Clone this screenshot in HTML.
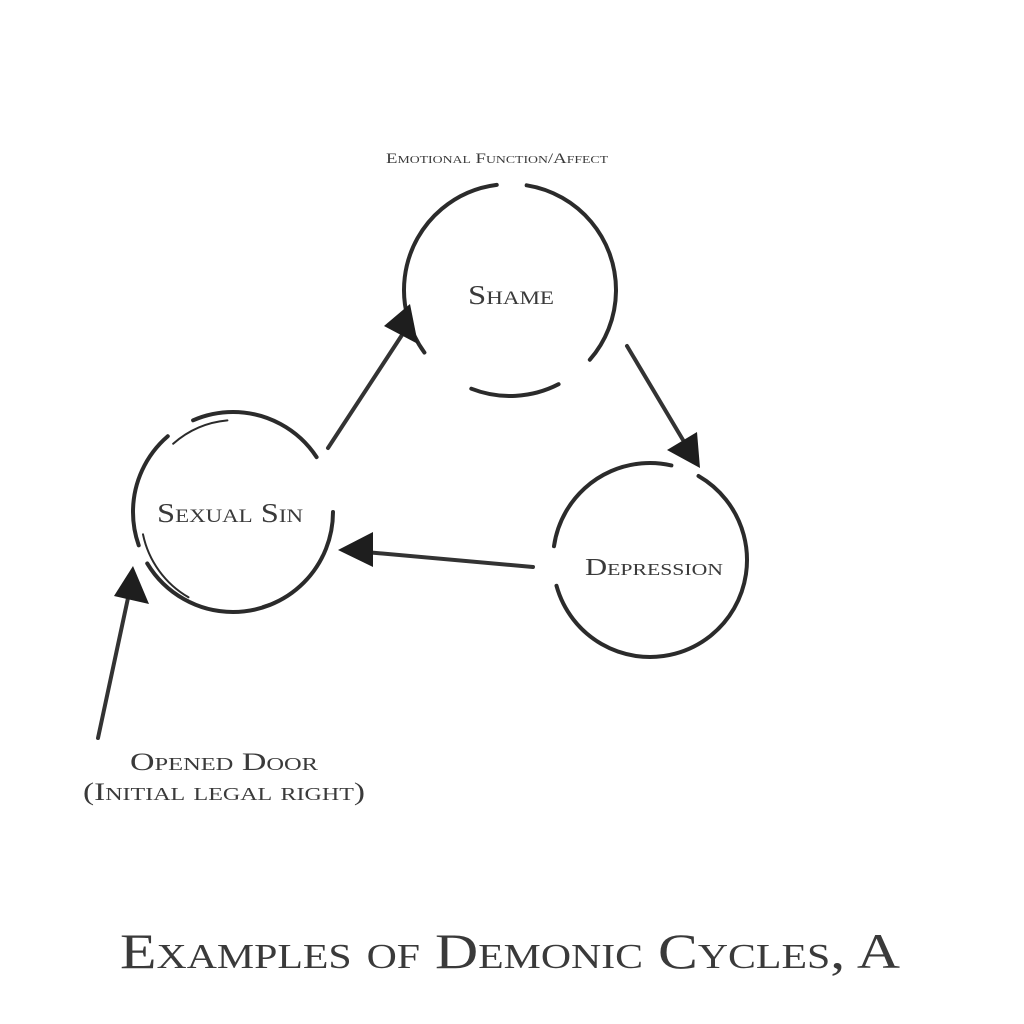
<!DOCTYPE html>
<html><head><meta charset="utf-8"><style>
html,body{margin:0;padding:0;background:#fff;}
svg{display:block}
text{font-family:"Liberation Serif",serif;font-variant:small-caps;fill:#3a3a3a;}
</style></head><body>
<svg width="1024" height="1024" viewBox="0 0 1024 1024" xmlns="http://www.w3.org/2000/svg">
<rect width="1024" height="1024" fill="#fff"/>
<g fill="none" stroke="#2b2b2b" stroke-linecap="round">
  <circle cx="510" cy="290" r="106" stroke-width="4" stroke-dasharray="150 40 90 60 220 30 80 50" transform="rotate(-40 510 290)"/>
  <circle cx="233" cy="512" r="100" stroke-width="4" stroke-dasharray="260 20 120 30 140 60"/>
  <circle cx="236" cy="515" r="95" stroke-width="2" stroke-dasharray="80 100 60 200" transform="rotate(120 236 515)"/>
  <circle cx="650" cy="560" r="97" stroke-width="4" stroke-dasharray="380 40 160 30" transform="rotate(-60 650 560)"/>
</g>
<g stroke="#333" stroke-width="4" stroke-linecap="round">
  <line x1="328" y1="448" x2="402" y2="335"/>
  <line x1="627" y1="346" x2="683" y2="440"/>
  <line x1="533" y1="567" x2="365" y2="552"/>
  <line x1="98" y1="738" x2="128" y2="598"/>
</g>
<g fill="#1e1e1e">
  <polygon points="410,304 418,344 384,326"/>
  <polygon points="700,468 667,450 697,432"/>
  <polygon points="338,550 373,532 373,567"/>
  <polygon points="133,566 149,604 114,596"/>
</g>
<text x="386" y="163" font-size="15" textLength="222" lengthAdjust="spacingAndGlyphs">Emotional Function/Affect</text>
<text x="468" y="304" font-size="27" textLength="86" lengthAdjust="spacingAndGlyphs">Shame</text>
<text x="157" y="522" font-size="27" textLength="146" lengthAdjust="spacingAndGlyphs">Sexual Sin</text>
<text x="585" y="575" font-size="24" textLength="138" lengthAdjust="spacingAndGlyphs">Depression</text>
<text x="130" y="770" font-size="25" textLength="188" lengthAdjust="spacingAndGlyphs">Opened Door</text>
<text x="83" y="800" font-size="25" textLength="282" lengthAdjust="spacingAndGlyphs">(Initial legal right)</text>
<text x="120" y="968" font-size="50" textLength="780" lengthAdjust="spacingAndGlyphs">Examples of Demonic Cycles, A</text>
</svg>
</body></html>
